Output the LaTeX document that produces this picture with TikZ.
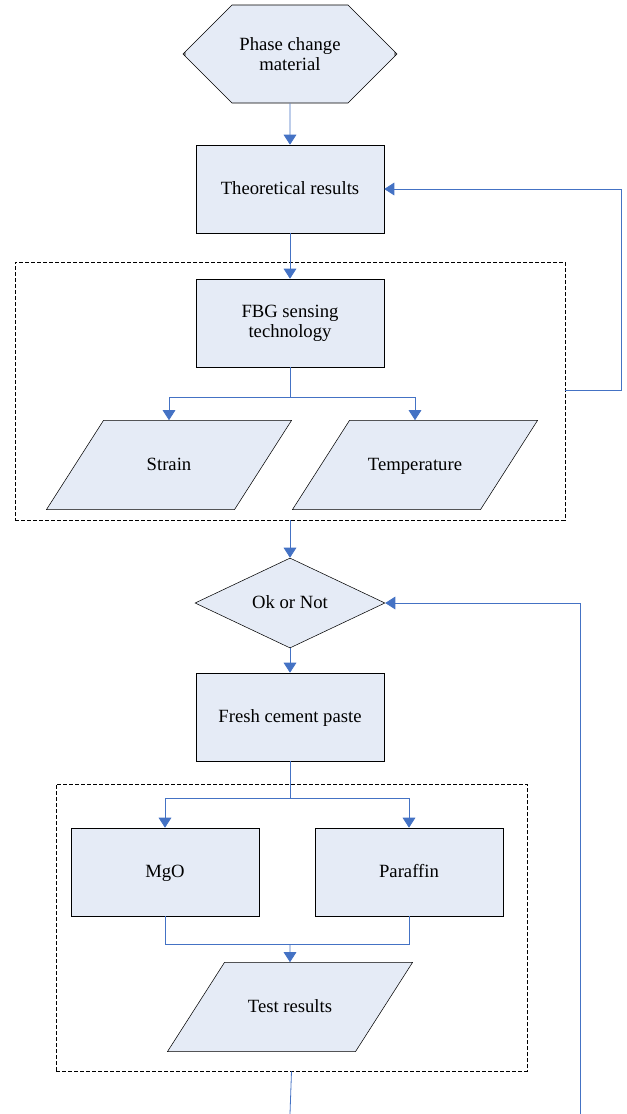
\documentclass[tikz,border=0pt]{standalone}
\usepackage{fontspec}
\setmainfont{Liberation Serif}
\usepackage{tikz}
\usetikzlibrary{positioning,shapes.geometric,shapes.misc,arrows.meta}
\definecolor{boxfill}{RGB}{229,235,246}
\definecolor{flowblue}{RGB}{68,114,196}
\tikzset{
	basic/.style  = {draw, thin, fill=boxfill, font=\fontsize{14}{15}\selectfont,
		align=center, inner sep=2pt},
	single/.style = {text height=10.5pt, text depth=2.5pt},
	start/.style  = {basic, chamfered rectangle, chamfered rectangle xsep=28.5pt,
		chamfered rectangle ysep=36.75pt, inner ysep=-14pt,
		minimum width=157.5pt, minimum height=73.5pt},
	process/.style = {basic, rectangle, minimum width=141pt, minimum height=66pt},
	io/.style     = {basic, single, trapezium, trapezium left angle=57.4,
		trapezium right angle=122.6, trapezium stretches body=true,
		inner ysep=26.9pt, minimum width=183.75pt},
	decision/.style = {basic, single, diamond, aspect=2.1, minimum width=142.5pt,
		minimum height=67.5pt},
	group/.style  = {draw, thin, dashed, dash pattern=on 3pt off 1.5pt, rectangle},
	flow/.style   = {->, draw=flowblue, line width=0.6pt},
	line/.style   = {draw=flowblue, line width=0.6pt}
}
\begin{document}
\begin{tikzpicture}[x=0.75pt, y=-0.75pt,
		>={Triangle[width=9.5pt,length=7.5pt]}]
	\useasboundingbox (0,0) rectangle (627,1114);

	% dashed groups
	\node[group, minimum width=412.5pt, minimum height=193.5pt] (grp1) at (290,391) {};
	\node[group, minimum width=353.25pt, minimum height=215.25pt] (grp2) at (291.5,927.5) {};

	% main chain
	\node[start] (pcm) at (290,54) {Phase change\\material};
	\node[process, single] (theory) at (290,189) {Theoretical results};
	\node[process] (fbg) at (290,323) {FBG sensing\\technology};
	\node[io] (strain) at (169,465) {Strain};
	\node[io] (temp) at (415,465) {Temperature};
	\node[decision] (check) at (290,603) {Ok or Not};
	\node[process, single] (fresh) at (290,717) {Fresh cement paste};
	\node[process, single] (mgo) at (165,872) {MgO};
	\node[process, single] (paraffin) at (409,872) {Paraffin};
	\node[io] (test) at (290,1007) {Test results};

	% free ends
	\coordinate (fb1) at (621,390);
	\coordinate (joint) at (290,944);
	\coordinate (out) at (290,1114);
	\coordinate (loop) at (580,1114);

	\draw[flow] (pcm) -- (theory);
	\draw[flow] (theory) -- (fbg);
	\draw[line] (fbg.south) -- ++(0,30) coordinate (split1);
	\draw[flow] (split1) -| (strain.north);
	\draw[flow] (split1) -| (temp.north);
	\draw[flow] (grp1.east |- fb1) -- (fb1) |- (theory.east);
	\draw[flow] (grp1.south) -- (check.north);
	\draw[flow] (check) -- (fresh);
	\draw[line] (fresh.south) -- ++(0,37) coordinate (split2);
	\draw[flow] (split2) -| (mgo.north);
	\draw[flow] (split2) -| (paraffin.north);
	\draw[line] (mgo.south) |- (joint) -| (paraffin.south);
	\draw[flow] (joint) -- (test.north);
	\draw[line] (grp2.south) -- (out);
	\draw[flow] (loop) |- (check.east);
\end{tikzpicture}
\end{document}
